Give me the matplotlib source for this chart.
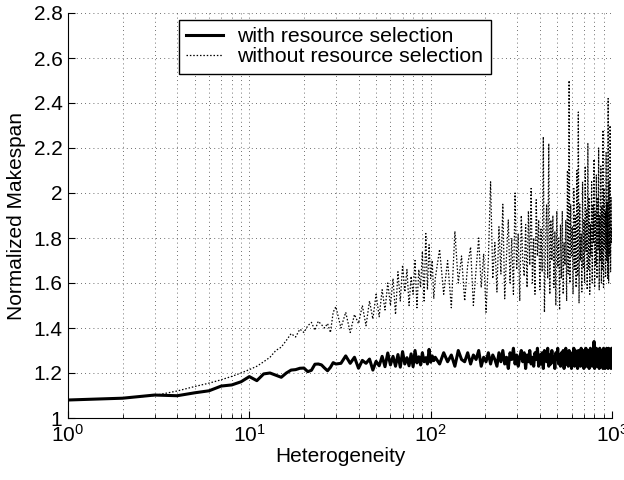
import numpy as np
import matplotlib
matplotlib.use('Agg')
from matplotlib import pyplot as plt

plt.rcParams['font.family'] = ['Liberation Sans', 'DejaVu Sans']
plt.rcParams['mathtext.default'] = 'regular'

# heterogeneity values at which the curves were read
het_a = list(range(1, 31))
het_b = list(range(32, 105, 2))
het_c = list(range(106, 1001, 6))

# with resource selection
with_a = [1.080, 1.088, 1.102, 1.099, 1.112, 1.121, 1.142, 1.147, 1.161, 1.184,
          1.166, 1.196, 1.200, 1.190, 1.181, 1.200, 1.213, 1.215, 1.221, 1.222,
          1.206, 1.212, 1.239, 1.240, 1.236, 1.222, 1.210, 1.225, 1.246, 1.240]
with_b = [1.243, 1.276, 1.243, 1.270, 1.221, 1.256, 1.243, 1.262, 1.213, 1.252,
          1.232, 1.274, 1.228, 1.289, 1.236, 1.274, 1.230, 1.282, 1.226, 1.295,
          1.240, 1.268, 1.232, 1.285, 1.228, 1.300, 1.245, 1.272, 1.236, 1.290,
          1.250, 1.268, 1.240, 1.305, 1.248, 1.276, 1.255]
with_c = [1.27, 1.24, 1.29, 1.25, 1.28, 1.23, 1.30, 1.26, 1.25, 1.29,
          1.24, 1.28, 1.26, 1.30, 1.23, 1.27, 1.25, 1.29, 1.24, 1.28,
          1.26, 1.23, 1.29, 1.25, 1.30, 1.24, 1.27, 1.22, 1.29, 1.26,
          1.31, 1.24, 1.28, 1.23, 1.27, 1.30, 1.25, 1.29, 1.22, 1.28,
          1.25, 1.30, 1.24, 1.27, 1.23, 1.29, 1.26, 1.31, 1.23, 1.28,
          1.24, 1.29, 1.22, 1.30, 1.26, 1.25, 1.31, 1.23, 1.28, 1.24,
          1.30, 1.25, 1.27, 1.22, 1.29, 1.26, 1.31, 1.24, 1.28, 1.23,
          1.29, 1.25, 1.30, 1.22, 1.27, 1.31, 1.24, 1.28, 1.23, 1.30,
          1.25, 1.29, 1.22, 1.28, 1.26, 1.31, 1.23, 1.30, 1.24, 1.27,
          1.22, 1.30, 1.25, 1.29, 1.23, 1.31, 1.26, 1.24, 1.30, 1.22,
          1.28, 1.25, 1.31, 1.23, 1.29, 1.24, 1.30, 1.22, 1.27, 1.31,
          1.24, 1.29, 1.23, 1.30, 1.26, 1.34, 1.22, 1.29, 1.25, 1.31,
          1.23, 1.28, 1.25, 1.30, 1.22, 1.31, 1.24, 1.29, 1.23, 1.30,
          1.26, 1.22, 1.31, 1.24, 1.29, 1.22, 1.30, 1.25, 1.31, 1.23,
          1.29, 1.22, 1.31, 1.24, 1.30, 1.23, 1.28, 1.22, 1.31, 1.25]

# without resource selection
without_a = [1.080, 1.088, 1.100, 1.120, 1.140, 1.155, 1.170, 1.185, 1.200, 1.215,
             1.230, 1.250, 1.270, 1.300, 1.315, 1.345, 1.375, 1.360, 1.395, 1.380,
             1.410, 1.425, 1.390, 1.430, 1.415, 1.400, 1.420, 1.380, 1.470, 1.495]
without_b = [1.40, 1.47, 1.38, 1.46, 1.42, 1.50, 1.41, 1.52, 1.44, 1.55,
             1.45, 1.57, 1.48, 1.60, 1.50, 1.62, 1.46, 1.65, 1.52, 1.68,
             1.56, 1.66, 1.50, 1.63, 1.55, 1.70, 1.49, 1.66, 1.58, 1.74,
             1.52, 1.82, 1.57, 1.77, 1.62, 1.70, 1.53]
without_c = [1.62, 1.75, 1.55, 1.70, 1.49, 1.83, 1.60, 1.72, 1.52, 1.68,
             1.76, 1.50, 1.66, 1.80, 1.58, 1.73, 1.47, 1.70, 2.05, 1.62,
             1.78, 1.56, 1.85, 1.64, 1.95, 1.53, 1.72, 1.88, 1.60, 1.80,
             1.55, 2.00, 1.66, 1.82, 1.52, 1.90, 1.70, 1.63, 1.86, 1.58,
             1.92, 1.68, 2.02, 1.60, 1.80, 1.55, 1.97, 1.72, 1.88, 1.57,
             1.84, 1.65, 2.25, 1.47, 1.78, 1.95, 1.62, 2.22, 1.55, 1.88,
             1.70, 1.90, 1.58, 1.83, 1.50, 1.92, 1.67, 1.80, 1.48, 1.86,
             1.62, 1.92, 1.55, 1.78, 1.68, 1.88, 1.52, 2.10, 1.64, 2.50,
             1.60, 1.95, 1.72, 1.85, 1.55, 2.02, 1.66, 1.90, 1.58, 2.10,
             1.63, 2.36, 1.51, 1.95, 1.70, 1.82, 1.56, 2.05, 1.67, 1.88,
             1.60, 2.12, 1.74, 1.93, 1.57, 2.22, 1.66, 1.98, 1.55, 1.86,
             1.72, 2.05, 1.60, 1.95, 1.78, 2.15, 1.58, 1.92, 1.68, 2.08,
             1.62, 1.98, 1.75, 2.20, 1.57, 1.90, 1.70, 2.12, 1.60, 1.94,
             1.66, 2.28, 1.58, 2.02, 1.75, 1.92, 1.63, 2.18, 1.70, 1.96,
             1.62, 2.42, 1.60, 2.05, 1.72, 2.30, 1.65, 1.98, 1.78, 1.85]

y_ticks = [1, 1.2, 1.4, 1.6, 1.8, 2, 2.2, 2.4, 2.6, 2.8]
y_labels = ['1', '1.2', '1.4', '1.6', '1.8', '2', '2.2', '2.4', '2.6', '2.8']

het = np.array(het_a + het_b + het_c)
with_sel = np.array(with_a + with_b + with_c)
without_sel = np.array(without_a + without_b + without_c)

fs = 15
fig = plt.figure(figsize=(6.24, 4.8), dpi=100)
ax = fig.add_axes([68/624, 62/480, 544/624, 405/480])

l2, = ax.semilogx(het, without_sel, color='k', linestyle=(0, (1.2, 1.5)), lw=0.9)
l1, = ax.semilogx(het, with_sel, color='k', linestyle='-', lw=2.2)

ax.set_xlim(1, 1000)
ax.set_ylim(1, 2.8)
ax.set_yticks(y_ticks)
ax.set_yticklabels(y_labels)

# matlab style dotted grid, minor lines on the log axis too
grid_style = dict(linestyle=(0, (1, 4)), color='0.25', lw=0.6)
ax.grid(which='major', axis='both', **grid_style)
ax.grid(which='minor', axis='x', **grid_style)
ax.tick_params(which='both', direction='in', labelsize=fs)
ax.tick_params(which='major', length=5, pad=4)
ax.tick_params(which='minor', length=3)
ax.spines['top'].set_visible(False)
ax.spines['right'].set_visible(False)

ax.set_xlabel('Heterogeneity', fontsize=fs, labelpad=1)
ax.set_ylabel('Normalized Makespan', fontsize=fs, labelpad=5)

leg = ax.legend([l1, l2], ['with resource selection', 'without resource selection'],
                loc='upper left', bbox_to_anchor=(0.204, 0.983), borderaxespad=0,
                fontsize=15.3, fancybox=False, framealpha=1, edgecolor='k',
                handlelength=1.7, handletextpad=0.7, labelspacing=0.05, borderpad=0.35)
leg.get_frame().set_linewidth(1.0)

plt.savefig('out.png', dpi=100)
